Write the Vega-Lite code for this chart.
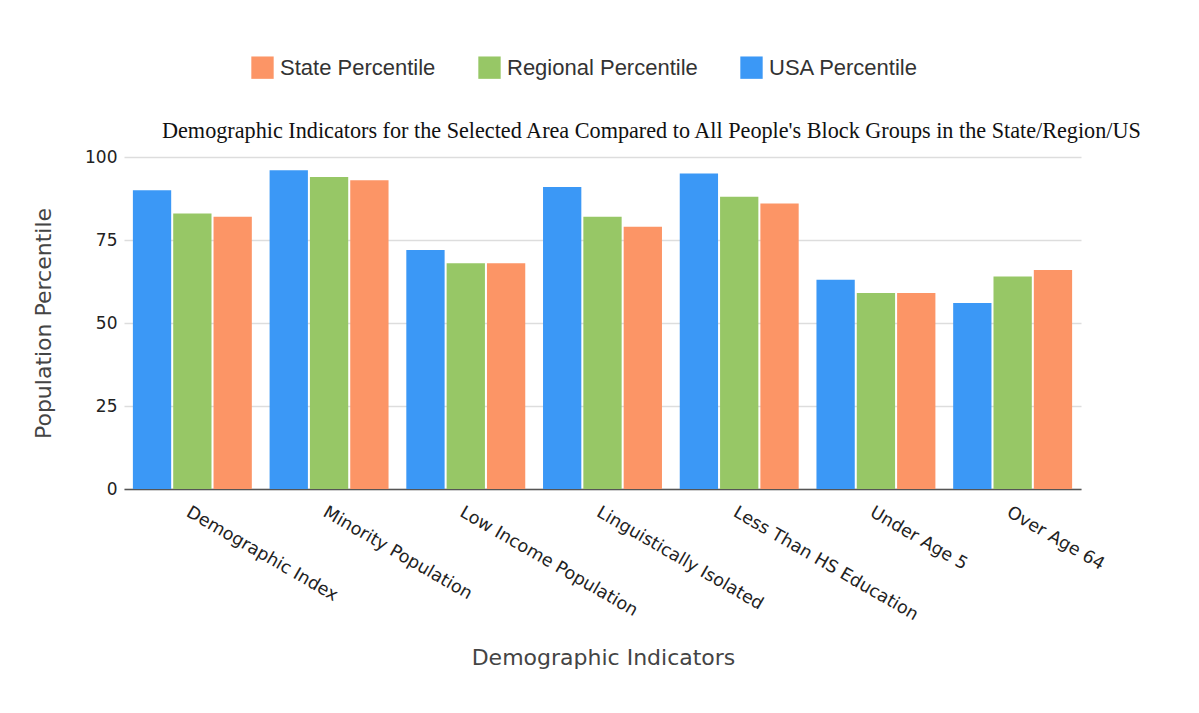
{
  "$schema": "https://vega.github.io/schema/vega-lite/v6.json",
  "autosize": "none",
  "width": 957,
  "height": 332,
  "padding": {"left": 124, "top": 157, "right": 118, "bottom": 224},
  "background": "white",
  "title": {
    "text": "Demographic Indicators for the Selected Area Compared to All People's Block Groups in the State/Region/US",
    "font": "Liberation Serif",
    "fontSize": 22.2,
    "fontWeight": "normal",
    "color": "#111111",
    "anchor": "start",
    "frame": "group",
    "dx": 38,
    "baseline": "alphabetic",
    "offset": -104
  },
  "data": {
    "values": [
      {"indicator": "Demographic Index", "type": "USA Percentile", "value": 90},
      {"indicator": "Demographic Index", "type": "Regional Percentile", "value": 83},
      {"indicator": "Demographic Index", "type": "State Percentile", "value": 82},
      {"indicator": "Minority Population", "type": "USA Percentile", "value": 96},
      {"indicator": "Minority Population", "type": "Regional Percentile", "value": 94},
      {"indicator": "Minority Population", "type": "State Percentile", "value": 93},
      {"indicator": "Low Income Population", "type": "USA Percentile", "value": 72},
      {"indicator": "Low Income Population", "type": "Regional Percentile", "value": 68},
      {"indicator": "Low Income Population", "type": "State Percentile", "value": 68},
      {"indicator": "Linguistically Isolated", "type": "USA Percentile", "value": 91},
      {"indicator": "Linguistically Isolated", "type": "Regional Percentile", "value": 82},
      {"indicator": "Linguistically Isolated", "type": "State Percentile", "value": 79},
      {"indicator": "Less Than HS Education", "type": "USA Percentile", "value": 95},
      {"indicator": "Less Than HS Education", "type": "Regional Percentile", "value": 88},
      {"indicator": "Less Than HS Education", "type": "State Percentile", "value": 86},
      {"indicator": "Under Age 5", "type": "USA Percentile", "value": 63},
      {"indicator": "Under Age 5", "type": "Regional Percentile", "value": 59},
      {"indicator": "Under Age 5", "type": "State Percentile", "value": 59},
      {"indicator": "Over Age 64", "type": "USA Percentile", "value": 56},
      {"indicator": "Over Age 64", "type": "Regional Percentile", "value": 64},
      {"indicator": "Over Age 64", "type": "State Percentile", "value": 66}
    ]
  },
  "mark": {"type": "bar"},
  "encoding": {
    "x": {
      "field": "indicator",
      "type": "nominal",
      "sort": null,
      "scale": {"paddingInner": 0.13, "paddingOuter": 0.065},
      "axis": {
        "title": "Demographic Indicators",
        "titleFont": "DejaVu Sans",
        "titleFontSize": 22,
        "titleFontWeight": "normal",
        "titleColor": "#444444",
        "titleX": 479,
        "titleY": 168,
        "titleBaseline": "middle",
        "labelAngle": 30,
        "labelAlign": "left",
        "labelBaseline": "top",
        "labelFont": "DejaVu Sans",
        "labelFontSize": 17.5,
        "labelColor": "#222222",
        "labelPadding": 14,
        "labelLimit": 400,
        "ticks": false,
        "domainColor": "#555555",
        "domainWidth": 1.5
      }
    },
    "xOffset": {
      "field": "type",
      "type": "nominal",
      "sort": ["USA Percentile", "Regional Percentile", "State Percentile"],
      "scale": {"paddingInner": 0.05, "paddingOuter": 0}
    },
    "y": {
      "field": "value",
      "type": "quantitative",
      "scale": {"domain": [0, 100]},
      "axis": {
        "title": "Population Percentile",
        "titleFont": "DejaVu Sans",
        "titleFontSize": 22,
        "titleFontWeight": "normal",
        "titleColor": "#444444",
        "titleX": -81,
        "titleY": 166,
        "titleBaseline": "middle",
        "titleAngle": -90,
        "values": [0, 25, 50, 75, 100],
        "labelFont": "DejaVu Sans",
        "labelFontSize": 17,
        "labelColor": "#222222",
        "labelPadding": 7,
        "ticks": false,
        "domain": false,
        "gridColor": "#dddddd",
        "gridWidth": 1.5
      }
    },
    "color": {
      "field": "type",
      "type": "nominal",
      "scale": {
        "domain": ["State Percentile", "Regional Percentile", "USA Percentile"],
        "range": ["#fc9566", "#97c766", "#3b98f6"]
      },
      "legend": {
        "title": null,
        "orient": "none",
        "direction": "horizontal",
        "legendX": 127,
        "legendY": -101,
        "padding": 0,
        "symbolType": "square",
        "symbolSize": 500,
        "symbolStrokeWidth": 0,
        "symbolOpacity": 1,
        "labelFont": "Liberation Sans",
        "labelFontSize": 22,
        "labelColor": "#333333",
        "labelOffset": 6,
        "columnPadding": 42,
        "labelLimit": 400
      }
    }
  },
  "config": {
    "view": {"stroke": null}
  }
}
